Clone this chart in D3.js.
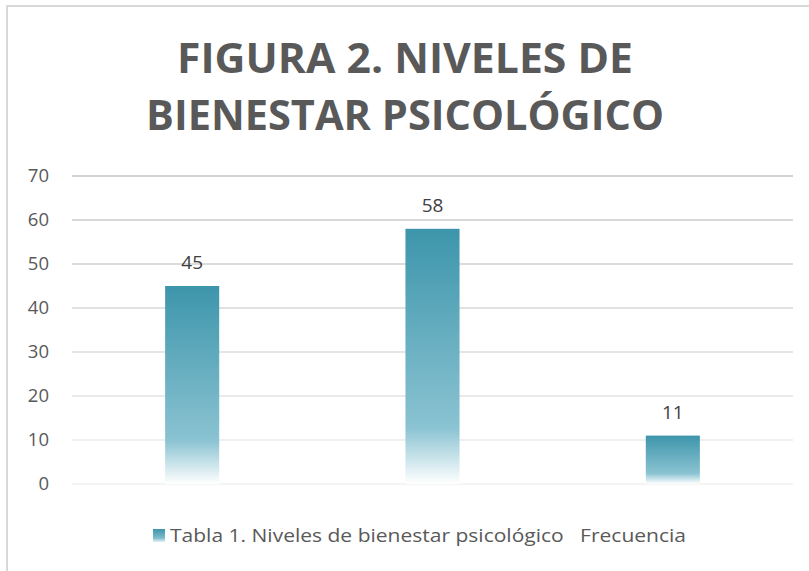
<!DOCTYPE html>
<html>
<head>
<meta charset="utf-8">
<script src="https://cdn.jsdelivr.net/npm/d3@7"></script>
<style>
  body { margin: 0; background: #fff; }
  text { font-family: "Open Sans", "Noto Sans", sans-serif; }
</style>
</head>
<body>
<script>
'use strict';

var width  = 809;
var height = 571;

var titleLines = ['FIGURA 2. NIVELES DE', 'BIENESTAR PSICOLÓGICO'];
var categories = ['Bajo', 'Medio', 'Alto'];
var values     = [45, 58, 11];
var yTicks     = [0, 10, 20, 30, 40, 50, 60, 70];
var legendLabel = 'Tabla 1. Niveles de bienestar psicológico   Frecuencia';

var svg = d3.select('body').append('svg')
    .attr('width', width)
    .attr('height', height);

// chart frame (runs off the right/bottom edge like the source)
svg.append('rect')
  .attr('x', 7).attr('y', 6)
  .attr('width', 820).attr('height', 590)
  .attr('fill', '#fff')
  .attr('stroke', '#d9d9d9')
  .attr('stroke-width', 2);

var defs = svg.append('defs');
var grad = defs.append('linearGradient')
  .attr('id', 'barGrad')
  .attr('x1', 0).attr('y1', 0).attr('x2', 0).attr('y2', 1);
grad.append('stop').attr('offset', '0%').attr('stop-color', '#3d95ab');
grad.append('stop').attr('offset', '78%').attr('stop-color', '#8ac3d2');
grad.append('stop').attr('offset', '100%').attr('stop-color', '#ffffff');

var x = d3.scaleBand()
  .domain(categories)
  .range([72, 793])
  .paddingInner(0.775)
  .paddingOuter(0.3875);

var y = d3.scaleLinear()
  .domain([0, 70])
  .range([484, 176]);

var gridColor = d3.scaleLinear().domain([0, 70]).range(['#f0f0f0', '#c4c4c4']);

// title
svg.append('g').selectAll('text')
  .data(titleLines)
  .join('text')
  .attr('x', 405)
  .attr('y', function(d, i) { return 73 + i * 57; })
  .attr('text-anchor', 'middle')
  .attr('font-family', 'Lato, sans-serif')
  .attr('font-weight', 'bold')
  .attr('font-size', 42)
  .attr('fill', '#595959')
  .attr('textLength', function(d, i) { return i === 0 ? 456 : 518; })
  .attr('lengthAdjust', 'spacingAndGlyphs')
  .text(function(d) { return d; });

// gridlines
svg.append('g').selectAll('line')
  .data(yTicks)
  .join('line')
  .attr('x1', 72).attr('x2', 793)
  .attr('y1', function(d) { return y(d); })
  .attr('y2', function(d) { return y(d); })
  .attr('stroke', function(d) { return gridColor(d); })
  .attr('stroke-width', 1.5);

// y axis labels
var yAxis = d3.axisLeft(y).tickValues(yTicks).tickSize(0).tickPadding(0);
var ag = svg.append('g')
  .attr('transform', 'translate(49,0)')
  .call(yAxis);
ag.select('.domain').remove();
ag.selectAll('text')
  .attr('font-family', '"Open Sans", sans-serif')
  .attr('font-size', 18.5)
  .attr('fill', '#595959');

// bars
svg.append('g').selectAll('rect')
  .data(values)
  .join('rect')
  .attr('x', function(d, i) { return x(categories[i]); })
  .attr('y', function(d) { return y(d); })
  .attr('width', x.bandwidth())
  .attr('height', function(d) { return y(0) - y(d); })
  .attr('fill', 'url(#barGrad)');

// value labels
svg.append('g').selectAll('text')
  .data(values)
  .join('text')
  .attr('x', function(d, i) { return x(categories[i]) + x.bandwidth() / 2; })
  .attr('y', function(d) { return y(d) - 17; })
  .attr('text-anchor', 'middle')
  .attr('font-size', 19)
  .attr('fill', '#404040')
  .text(function(d) { return d; });

// legend
var lg = svg.append('g');
var lgrad = defs.append('linearGradient')
  .attr('id', 'legGrad')
  .attr('x1', 0).attr('y1', 0).attr('x2', 0).attr('y2', 1);
lgrad.append('stop').attr('offset', '0%').attr('stop-color', '#3d95ab');
lgrad.append('stop').attr('offset', '70%').attr('stop-color', '#7fbccd');
lgrad.append('stop').attr('offset', '100%').attr('stop-color', '#e6f2f5');
lg.append('rect')
  .attr('x', 153).attr('y', 529)
  .attr('width', 12).attr('height', 13)
  .attr('fill', 'url(#legGrad)');
lg.append('text')
  .attr('x', 170).attr('y', 542)
  .attr('font-size', 18.5)
  .attr('fill', '#595959')
  .attr('textLength', 516)
  .attr('lengthAdjust', 'spacingAndGlyphs')
  .attr('xml:space', 'preserve')
  .style('white-space', 'pre')
  .text(legendLabel);
</script>
</body>
</html>
